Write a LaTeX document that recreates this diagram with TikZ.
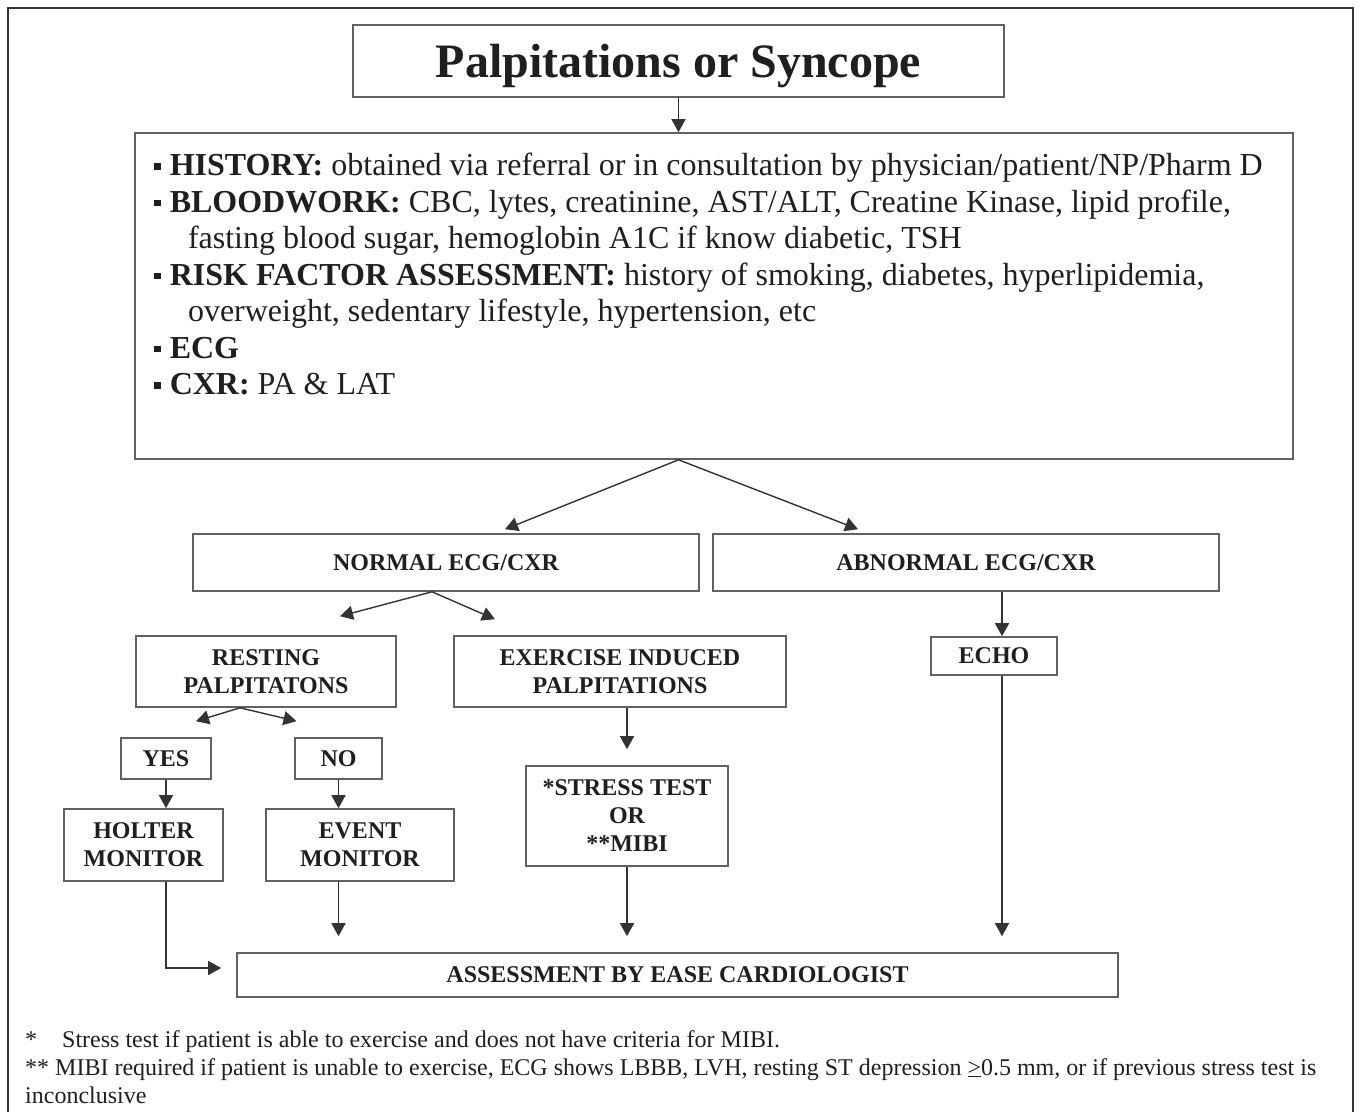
\documentclass[tikz,border=0pt]{standalone}
\usepackage{fontspec}
\setmainfont{Liberation Serif}
\usetikzlibrary{positioning,arrows.meta}

\definecolor{boxgray}{gray}{0.38}
\definecolor{linedark}{gray}{0.2}
\definecolor{textdark}{gray}{0.12}

\newcommand{\sqbullet}{\rule[0.2em]{0.2em}{0.2em}\hspace{0.28em}}

\begin{document}
\begin{tikzpicture}[
    x=1pt,y=-1pt,
    box/.style={
      draw=boxgray,line width=1.6pt,inner sep=0pt,
      align=center,text=textdark,
      font=\fontsize{24}{28}\selectfont\bfseries
    },
    titlebox/.style={
      box,text depth=0pt,
      font=\fontsize{48}{52}\selectfont\bfseries
    },
    infotext/.style={
      inner sep=0pt,align=left,text=textdark,anchor=north west,
      font=\fontsize{32}{36.5}\selectfont
    },
    notetext/.style={
      inner sep=0pt,align=left,text=textdark,anchor=north west,
      font=\fontsize{24}{28}\selectfont
    },
    arrow/.style={
      draw=linedark,line width=1.4pt,
      -{Triangle[length=13pt,width=14pt]}
    }]
  \useasboundingbox (0,0) rectangle (1360,1112);
  % outer frame
  \draw[linedark,line width=1.6pt] (8,1112) |- (1353,8) -- (1353,1112);

  % boxes
  \node[titlebox,minimum width=651pt,minimum height=72pt] (title) at (678.5,61) {Palpitations or Syncope};
  \node[box,minimum width=1158pt,minimum height=326pt] (info) at (714,296) {};
  \node[infotext] (infotext) at ([xshift=20pt,yshift=-21pt]info.north west) {%
    \sqbullet\textbf{HISTORY:} obtained via referral or in consultation by physician/patient/NP/Pharm D\\
    \sqbullet\textbf{BLOODWORK:} CBC, lytes, creatinine, AST/ALT, Creatine Kinase, lipid profile,\\
    \hspace*{1.05em}fasting blood sugar, hemoglobin A1C if know diabetic, TSH\\
    \sqbullet\textbf{RISK FACTOR ASSESSMENT:} history of smoking, diabetes, hyperlipidemia,\\
    \hspace*{1.05em}overweight, sedentary lifestyle, hypertension, etc\\
    \sqbullet\textbf{ECG}\\
    \sqbullet\textbf{CXR:} PA \& LAT};

  \node[box,minimum width=506pt,minimum height=57pt] (normal) at (446,562.5) {NORMAL ECG/CXR};
  \node[box,minimum width=506pt,minimum height=57pt] (abnormal) at (966,562.5) {ABNORMAL ECG/CXR};
  \node[box,minimum width=260pt,minimum height=71pt] (resting) at (266,671.5) {RESTING\\PALPITATONS};
  \node[box,minimum width=332pt,minimum height=71pt] (exercise) at (620,671.5) {EXERCISE INDUCED\\PALPITATIONS};
  \node[box,minimum width=126pt,minimum height=38pt] (echo) at (994,656) {ECHO};
  \node[box,minimum width=90pt,minimum height=41pt] (yes) at (166,758.5) {YES};
  \node[box,minimum width=87pt,minimum height=41pt] (no) at (338.5,758.5) {NO};
  \node[box,minimum width=159pt,minimum height=72pt] (holter) at (143.5,845) {HOLTER\\MONITOR};
  \node[box,minimum width=188pt,minimum height=72pt] (event) at (360,845) {EVENT\\MONITOR};
  \node[box,minimum width=202pt,minimum height=100pt] (stress) at (627,816) {*STRESS TEST\\OR\\**MIBI};
  \node[box,minimum width=881pt,minimum height=44pt] (assess) at (677.5,975) {ASSESSMENT BY EASE CARDIOLOGIST};

  % connectors
  \draw[arrow] (title.south) -- (title.south |- info.north);
  \draw[arrow] (title.south |- info.south) -- ([xshift=59pt,yshift=4pt]normal.north);
  \draw[arrow] (title.south |- info.south) -- ([xshift=-108pt,yshift=4pt]abnormal.north);
  \draw[arrow] ([xshift=-14pt]normal.south) -- ([xshift=74pt,yshift=19pt]resting.north);
  \draw[arrow] ([xshift=-14pt]normal.south) -- ([xshift=-125pt,yshift=16pt]exercise.north);
  \draw[arrow] ([xshift=8pt]abnormal.south -| echo.north) -- ([xshift=8pt]echo.north);
  \draw[arrow] ([xshift=-26pt]resting.south) -- ([xshift=30pt,yshift=16pt]yes.north);
  \draw[arrow] ([xshift=-26pt]resting.south) -- ([xshift=-42pt,yshift=16pt]no.north);
  \draw[arrow] (yes.south) -- (yes.south |- holter.north);
  \draw[arrow] (no.south) -- (no.south |- event.north);
  \draw[arrow,shorten >=16pt] (exercise.south -| stress.north) -- (stress.north);
  \draw[arrow,shorten >=16pt] (no.south |- event.south) -- (no.south |- assess.north);
  \draw[arrow,shorten >=16pt] (stress.south) -- (stress.south |- assess.north);
  \draw[arrow,shorten >=16pt] ([xshift=8pt]echo.south) -- ([xshift=8pt]echo.south |- assess.north);
  \draw[arrow,shorten >=15pt] (yes.south |- holter.south) |- ([yshift=7pt]assess.west);

  % footnotes
  \node[notetext] (notes) at (25,1030) {%
    \makebox[37pt][l]{*}Stress test if patient is able to exercise and does not have criteria for MIBI.\\
    ** MIBI required if patient is unable to exercise, ECG shows LBBB, LVH, resting ST depression \underline{>}0.5 mm, or if previous stress test is\\
    inconclusive};
\end{tikzpicture}
\end{document}
